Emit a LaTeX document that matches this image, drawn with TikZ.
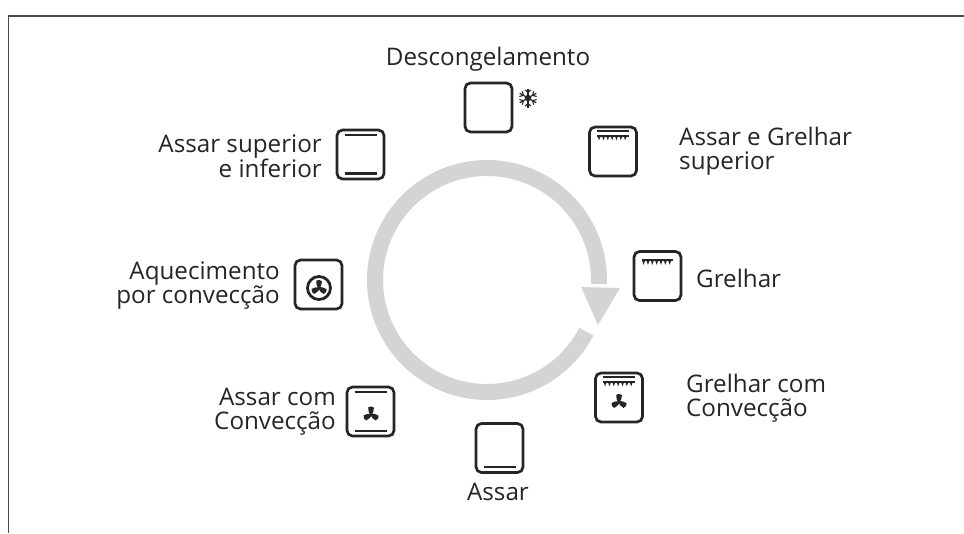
\documentclass[tikz,border=0pt]{standalone}
\usepackage{fontspec}
\usetikzlibrary{calc}
\setmainfont{Open Sans}
\definecolor{ink}{HTML}{252525}
\definecolor{ringgray}{HTML}{D4D4D4}
\definecolor{framegray}{HTML}{4A4A4A}
\tikzset{
  ovenbox/.style={draw=ink,line width=2.7pt,rounded corners=5.5pt,minimum width=47pt,minimum height=49pt,inner sep=0pt,fill=white},
  txt/.style={text=ink,font=\fontsize{24.2}{23.6}\selectfont,inner sep=0pt},
  bar/.style={draw=ink,line width=2.6pt},
  pics/teeth/.style={code={
    \foreach \k in {0,...,6}{\fill[ink] (\k*4.35-15.6,-2) -- (\k*4.35-12.2,-2) -- (\k*4.35-13.9,2.8) -- cycle;}
    \fill[ink] (-15.6,-2.6) rectangle (15.6,-0.8);
  }},
  pics/fanicon/.style={code={
    \foreach \a in {0,120,240}{
      \fill[ink,rotate=\a] (0,1.4) .. controls (-2.4,-1.5) and (-3.4,-5) .. (-2.9,-7.6) .. controls (-1.4,-9) and (1.6,-8.8) .. (3.1,-7.2) .. controls (3,-4.5) and (2.4,-1.5) .. (0,1.4) -- cycle;
    }
  }},
  pics/flake/.style={code={
    \foreach \a in {0,60,...,300}{
      \begin{scope}[rotate=\a]
        \draw[ink,line width=1.2pt] (0,0) -- (0,-9.5);
        \draw[ink,line width=1.1pt] (-3,-8.2) -- (0,-5.4) -- (3,-8.2);
      \end{scope}
    }
    \fill[ink] (0,0) circle (3.2);
  }}
}
\begin{document}
\begin{tikzpicture}[x=1pt,y=-1pt]
\useasboundingbox (0,0) rectangle (964,533);
% frame
\draw[framegray,line width=1.5pt] (8.5,533) -- (8.5,16) -- (964,16);
% cycle ring
\coordinate (ringc) at (487,280);
\coordinate (tipa) at (581,287);
\coordinate (tipb) at (620,288);
\coordinate (tipc) at (598,325);
\draw[ringgray,line width=16pt] ($(ringc)+(27.5:112)$) arc[start angle=27.5,end angle=362,radius=112];
\fill[ringgray] (tipa) -- (tipb) -- (tipc) -- cycle;
% ovens
\node[ovenbox] (defrost) at (488.5,107.5) {};
\node[ovenbox] (topgrill) at (613,151.5) {};
\node[ovenbox] (grill) at (657.5,276) {};
\node[ovenbox] (grillfan) at (619,397.5) {};
\node[ovenbox] (bake) at (499.5,448) {};
\node[ovenbox] (bakefan) at (370.5,411.5) {};
\node[ovenbox] (convect) at (318.5,284.5) {};
\node[ovenbox] (updown) at (360.5,154.5) {};
% icons
\pic at (528,98) {flake};
\draw[bar] ($(topgrill)+(-16,-20.5)$) -- ($(topgrill)+(16,-20.5)$);
\pic at ($(topgrill)+(0,-14)$) {teeth};
\pic at ($(grill)+(0,-14)$) {teeth};
\draw[bar] ($(grillfan)+(-16,-20.5)$) -- ($(grillfan)+(16,-20.5)$);
\pic at ($(grillfan)+(0,-14)$) {teeth};
\pic[scale=.95] at ($(grillfan)+(0,4.5)$) {fanicon};
\draw[bar] ($(bake)+(-16,19)$) -- ($(bake)+(16,19)$);
\draw[bar] ($(bakefan)+(-16,-19.5)$) -- ($(bakefan)+(16,-19.5)$);
\draw[bar] ($(bakefan)+(-16,19.5)$) -- ($(bakefan)+(16,19.5)$);
\pic[scale=.95] at ($(bakefan)+(0.5,3)$) {fanicon};
\draw[bar] ($(updown)+(-16,-19.5)$) -- ($(updown)+(16,-19.5)$);
\draw[bar] ($(updown)+(-16,19)$) -- ($(updown)+(16,19)$);
\draw[ink,line width=2.8pt] ($(convect)+(0.5,3.5)$) circle (11.5);
\pic[scale=.95] at ($(convect)+(0.5,3.5)$) {fanicon};
% labels
\node[txt,anchor=center] (tdefrost) at (488,59) {Descongelamento};
\node[txt,anchor=west,align=left] (ttopgrill) at (679,151.5) {Assar e Grelhar\\superior};
\node[txt,anchor=west] (tgrill) at (696,278) {Grelhar};
\node[txt,anchor=west,align=left] (tgrillfan) at (686,398) {Grelhar com\\Convecção};
\node[txt,anchor=center] (tbake) at (498,492) {Assar};
\node[txt,anchor=east,align=right] (tbakefan) at (336,411.5) {Assar com\\Convecção};
\node[txt,anchor=east,align=right] (tconvect) at (280,285.5) {Aquecimento\\por convecção};
\node[txt,anchor=east,align=right] (tupdown) at (322,156) {Assar superior\\e inferior};
\end{tikzpicture}
\end{document}
